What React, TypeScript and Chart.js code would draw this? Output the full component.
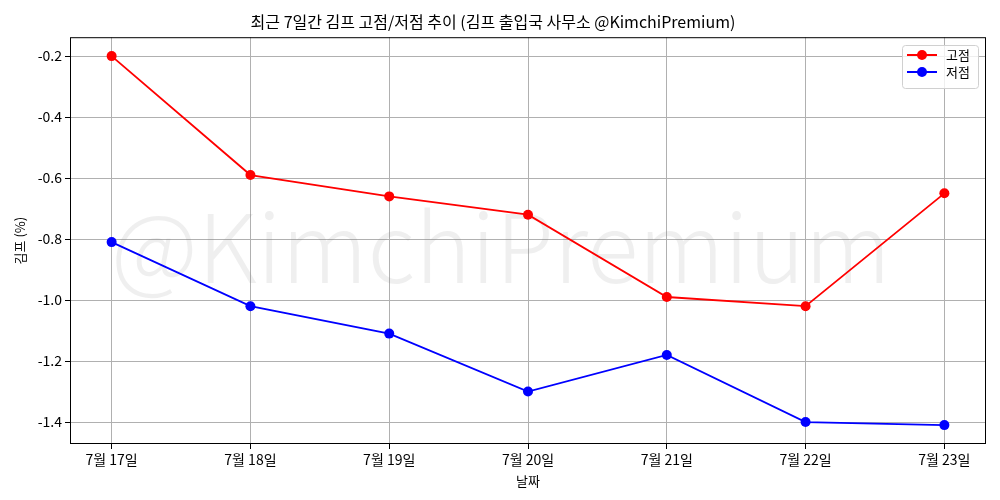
import React, { useEffect, useRef } from "react";
import { Chart, registerables } from "chart.js";

Chart.register(...registerables);

const dateLabels = ["7월 17일", "7월 18일", "7월 19일", "7월 20일", "7월 21일", "7월 22일", "7월 23일"];
const highValues = [-0.2, -0.59, -0.66, -0.72, -0.99, -1.02, -0.65];
const lowValues = [-0.81, -1.02, -1.11, -1.3, -1.18, -1.4, -1.41];
const yTicks = [-0.2, -0.4, -0.6, -0.8, -1.0, -1.2, -1.4];
const seriesNames = ["고점", "저점"];
const seriesColors = ["#ff0000", "#0000ff"];

const FONT = "'Noto Sans CJK KR', 'Noto Sans', sans-serif";

export default function App() {
  const ref = useRef<HTMLCanvasElement>(null);
  useEffect(() => {
    document.body.style.margin = "0";
    const canvas = ref.current!;
    const watermark = {
      id: "watermark",
      beforeDatasetsDraw(chart: any) {
        const { ctx, chartArea } = chart;
        ctx.save();
        const text = "@KimchiPremium";
        let size = 110;
        ctx.font = `300 ${size}px ${FONT}`;
        const w = ctx.measureText(text).width;
        size = size * (780 / w);
        ctx.font = `300 ${size}px ${FONT}`;
        ctx.fillStyle = "rgba(128,128,128,0.13)";
        ctx.textAlign = "center";
        ctx.textBaseline = "middle";
        ctx.fillText(text, 501, (chartArea.top + chartArea.bottom) / 2 + 6);
        ctx.restore();
      },
    };
    const frameLegend = {
      id: "frameLegend",
      afterDraw(chart: any) {
        const { ctx, chartArea } = chart;
        ctx.save();
        ctx.strokeStyle = "#000";
        ctx.lineWidth = 1;
        ctx.strokeRect(chartArea.left + 0.5, chartArea.top + 0.5, chartArea.right - chartArea.left - 1, chartArea.bottom - chartArea.top - 1);
        const bx = 902, by = 45, bw = 76, bh = 43;
        ctx.fillStyle = "rgba(255,255,255,0.8)";
        ctx.strokeStyle = "#d0d0d0";
        ctx.beginPath();
        (ctx as any).roundRect(bx + 0.5, by + 0.5, bw, bh, 3);
        ctx.fill();
        ctx.stroke();
        seriesNames.forEach((name, i) => {
          const y = by + 10 + i * 17;
          ctx.strokeStyle = seriesColors[i];
          ctx.lineWidth = 2;
          ctx.beginPath();
          ctx.moveTo(907, y);
          ctx.lineTo(937, y);
          ctx.stroke();
          ctx.fillStyle = seriesColors[i];
          ctx.beginPath();
          ctx.arc(922, y, 5, 0, Math.PI * 2);
          ctx.fill();
          ctx.fillStyle = "#000";
          ctx.font = `13px ${FONT}`;
          ctx.textAlign = "left";
          ctx.textBaseline = "middle";
          ctx.fillText(name, 946, y);
        });
        ctx.restore();
      },
    };
    const chart = new Chart(canvas, {
      type: "line",
      data: {
        datasets: [highValues, lowValues].map((vals, i) => ({
          label: seriesNames[i],
          data: vals.map((v, j) => ({ x: j, y: v })),
          borderColor: seriesColors[i],
          backgroundColor: seriesColors[i],
          borderWidth: 1.8,
          pointRadius: 5,
          pointBorderWidth: 0,
          pointBackgroundColor: seriesColors[i],
          tension: 0,
        })),
      },
      options: {
        animation: false,
        responsive: false,
        layout: { padding: { left: 0, right: 14, top: 0, bottom: 0 } },
        plugins: {
          legend: { display: false },
          tooltip: { enabled: false },
          title: {
            display: true,
            text: "최근 7일간 김프 고점/저점 추이 (김프 출입국 사무소 @KimchiPremium)",
            color: "#000",
            font: { family: FONT, size: 16, weight: "normal" },
            padding: { top: 12, bottom: 6 },
          },
        },
        scales: {
          x: {
            type: "linear",
            min: -0.3,
            max: 6.3,
            afterBuildTicks: (s: any) => {
              s.ticks = dateLabels.map((_, i) => ({ value: i }));
            },
            afterFit: (s: any) => {
              s.height = 56;
            },
            ticks: {
              callback: (v: any) => dateLabels[v as number] ?? "",
              color: "#000",
              font: { family: FONT, size: 14 },
              padding: 2,
              maxRotation: 0,
            },
            grid: { color: "#b0b0b0", tickColor: "#000", tickLength: 5, lineWidth: 1 },
            border: { display: false },
            title: {
              display: true,
              text: "날짜",
              color: "#000",
              font: { family: FONT, size: 13 },
              padding: { top: 0, bottom: 11 },
            },
          },
          y: {
            type: "linear",
            min: -1.472,
            max: -0.138,
            afterBuildTicks: (s: any) => {
              s.ticks = yTicks.map((v) => ({ value: v }));
            },
            afterFit: (s: any) => {
              s.width = 70;
            },
            ticks: {
              callback: (v: any) => (v as number).toFixed(1),
              color: "#000",
              font: { family: FONT, size: 14 },
              padding: 3,
            },
            grid: { color: "#b0b0b0", tickColor: "#000", tickLength: 5, lineWidth: 1 },
            border: { display: false },
            title: {
              display: true,
              text: "김프 (%)",
              color: "#000",
              font: { family: FONT, size: 13 },
              padding: { top: 12, bottom: 0 },
            },
          },
        },
      },
      plugins: [watermark, frameLegend],
    } as any);
    return () => chart.destroy();
  }, []);
  return <canvas ref={ref} width={1000} height={500} style={{ display: "block" }} />;
}
